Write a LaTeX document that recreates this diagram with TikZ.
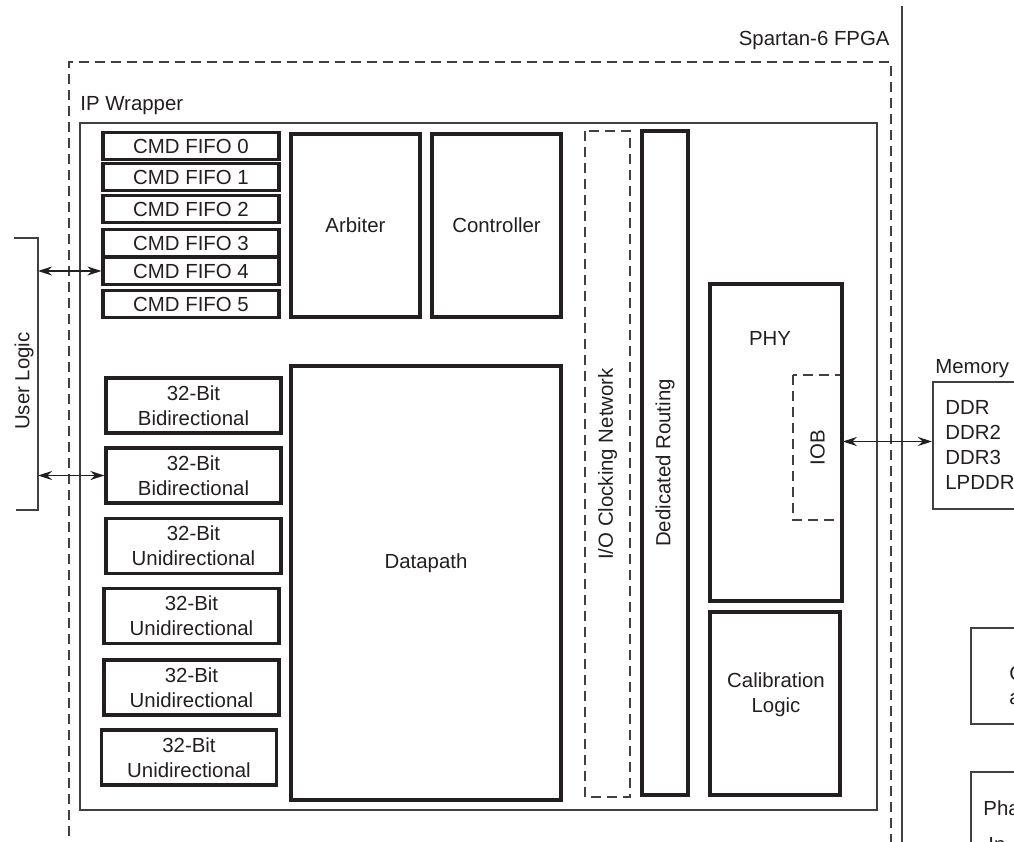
\documentclass[tikz,border=0pt]{standalone}
\usepackage{fontspec}
\setmainfont{Liberation Sans}
\usepackage{xcolor}
\usepackage{tikz}
\usetikzlibrary{arrows.meta, positioning}
\definecolor{darkline}{HTML}{231F20}
\definecolor{greyline}{HTML}{404040}
\tikzset{
    fifo/.style={rectangle, draw=darkline, line width=1.6pt, minimum width=88pt, minimum height=13.5pt, inner sep=0pt, text centered},
    port/.style={rectangle, draw=darkline, line width=1.6pt, minimum width=87.5pt, minimum height=27.5pt, inner sep=0pt, align=center},
    block/.style={rectangle, draw=darkline, line width=1.6pt, inner sep=0pt, align=center},
    dashblock/.style={rectangle, draw=greyline, line width=0.8pt, dash pattern=on 5pt off 3pt, inner sep=0pt, align=center},
    frame/.style={rectangle, draw=greyline, line width=0.8pt, inner sep=0pt},
    plain/.style={inner sep=0pt},
    biarrow/.style={{Stealth[length=7pt,width=4.5pt]}-{Stealth[length=7pt,width=4.5pt]}, line width=0.7pt, draw=darkline}
}

\begin{document}
\begin{tikzpicture}[x=0.5pt, y=-0.5pt, font=\fontsize{10.2}{12.5}\selectfont, text=darkline]
    \useasboundingbox (0,0) rectangle (1014,842);
    \clip (0,0) rectangle (1014,842);

    % FPGA edge and wrapper frames
    \draw [greyline, line width=0.8pt] (902,6) -- (902,842);
    \node (fpgalbl) [plain, anchor=base east] at (890,45) {Spartan-6 FPGA};
    \node (ipwrap) [dashblock, anchor=north west, minimum width=411pt, minimum height=420pt] at (68,61) {};
    \node (ipwlbl) [plain, anchor=base west] at (80,110) {IP Wrapper};
    \node (core) [frame, anchor=north west, minimum width=398.5pt, minimum height=343.5pt] at (79,122) {};

    % command FIFOs
    \node (fifo0) [fifo] at (191,146) {CMD FIFO 0};
    \node (fifo1) [fifo] at (191,177) {CMD FIFO 1};
    \node (fifo2) [fifo] at (191,209) {CMD FIFO 2};
    \node (fifo3) [fifo] at (191,243) {CMD FIFO 3};
    \node (fifo4) [fifo] at (191,271) {CMD FIFO 4};
    \node (fifo5) [fifo] at (191,304) {CMD FIFO 5};

    % data ports
    \node (port0) [port] at (193.5,405.5) {32-Bit\\Bidirectional};
    \node (port1) [port] at (193.5,475.5) {32-Bit\\Bidirectional};
    \node (port2) [port] at (193.5,546) {32-Bit\\Unidirectional};
    \node (port3) [port] at (191.5,616) {32-Bit\\Unidirectional};
    \node (port4) [port] at (191.5,687.5) {32-Bit\\Unidirectional};
    \node (port5) [port] at (189,757.5) {32-Bit\\Unidirectional};

    % core blocks
    \node (arbiter) [block, minimum width=64.5pt, minimum height=91.5pt] at (355.5,225.5) {Arbiter};
    \node (ctrl) [block, minimum width=64.5pt, minimum height=91.5pt] at (496.5,225.5) {Controller};
    \node (datapath) [block, minimum width=135pt, minimum height=217pt] at (426,583) {};
    \node (dplbl) [plain] at (426,563) {Datapath};
    \node (ioclk) [dashblock, rotate=90, minimum width=333pt, minimum height=22.5pt] at (607.5,464) {I/O Clocking Network};
    \node (dedrt) [block, rotate=90, minimum width=332pt, minimum height=23pt] at (665,463) {Dedicated Routing};
    \node (iob) [dashblock, rotate=90, minimum width=72.5pt, minimum height=24.5pt] at (817.5,447.5) {IOB};
    \node (phy) [block, minimum width=66pt, minimum height=158.5pt] at (776,442.5) {};
    \node (phylbl) [plain] at (770,338) {PHY};
    \node (calib) [block, minimum width=65pt, minimum height=91.5pt] at (775,703.5) {};
    \node (callbl) [plain, align=center] at (776,695) {Calibration\\Logic};

    % memory side
    \node (mem) [frame, anchor=north west, minimum width=60pt, minimum height=63.5pt] at (932,381) {};
    \node (memlbl) [plain, anchor=base west] at (935,373) {Memory};
    \node (memlist) [plain, anchor=west, align=left] at (945,445) {DDR\\DDR2\\DDR3\\LPDDR};
    \node (clkbox) [frame, anchor=north west, minimum width=40pt, minimum height=48pt] at (970,627) {};
    \node (clktxt) [plain, anchor=base west] at (1009,680) {C};
    \node (clktxt2) [plain, anchor=base west] at (1009,704) {a};
    \node (phsbox) [frame, anchor=north west, minimum width=40pt, minimum height=50pt] at (970,771) {};
    \node (phstxt) [plain, anchor=base west] at (983,815) {Pha};
    \node (phstxt2) [plain, anchor=base west] at (988,851) {In};

    % user logic
    \coordinate (ultop) at (38,238);
    \coordinate (ulbot) at (38,510);
    \draw [greyline, line width=0.8pt] ([xshift=-12pt]ultop) -- (ultop) -- (ulbot) -- ([xshift=-11pt]ulbot);
    \node (userlbl) [plain, rotate=90] at (24,381) {User Logic};

    \draw [biarrow] (fifo4.west -| ultop) -- (fifo4.west);
    \draw [biarrow] (port1.west -| ultop) -- (port1.west);
    \draw [biarrow] ([yshift=3pt]iob.south) -- ([yshift=3pt]iob.south -| mem.west);
\end{tikzpicture}
\end{document}
